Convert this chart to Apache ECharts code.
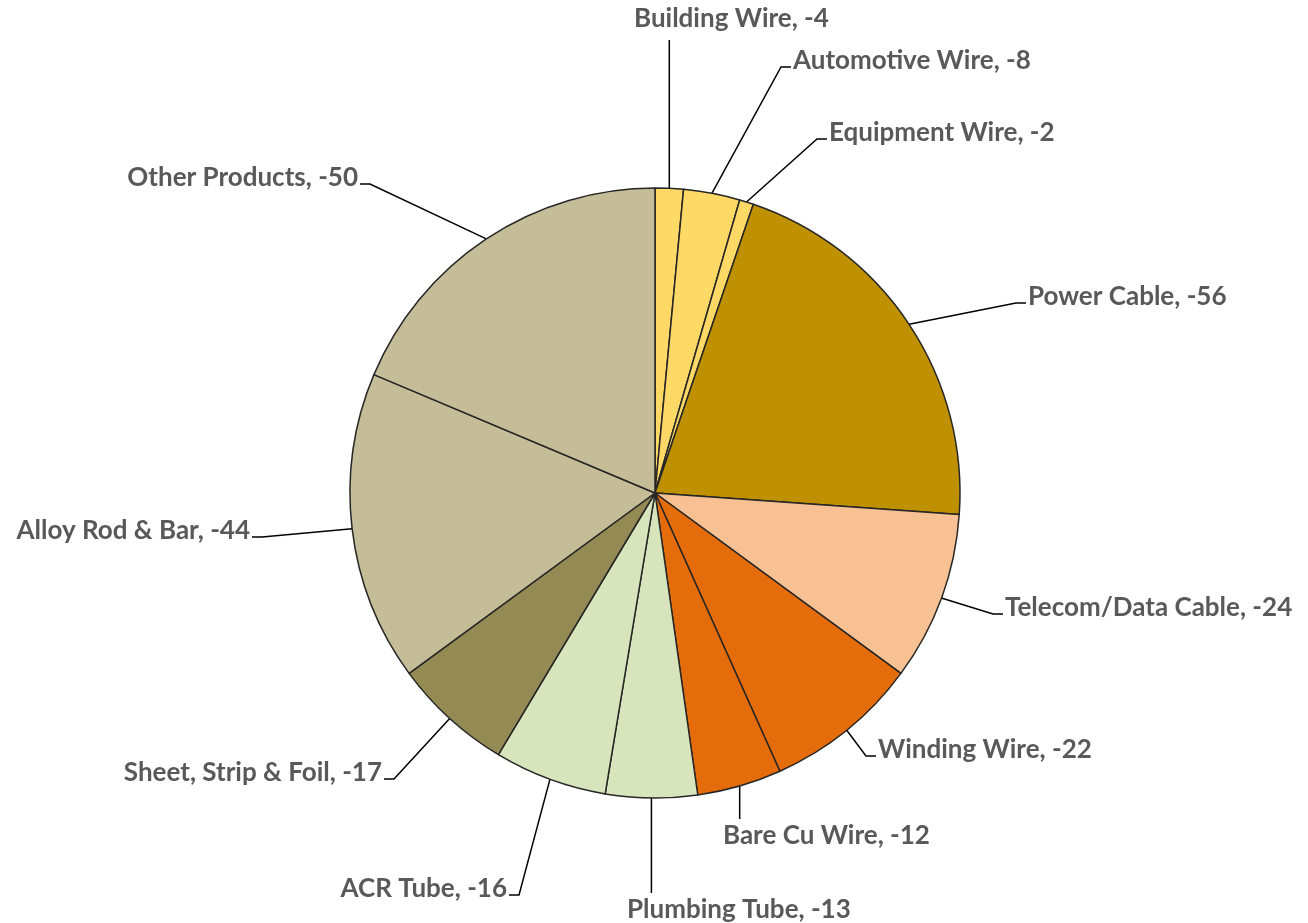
<!DOCTYPE html>
<html>
<head>
<meta charset="utf-8">
<style>
  html, body { margin: 0; padding: 0; background: #fff; }
  #chart { width: 1308px; height: 923px; }
</style>
<script src="https://cdn.jsdelivr.net/npm/echarts@6/dist/echarts.min.js"></script>
</head>
<body>
<div id="chart"></div>
<script>
// 数据
const categories = ['Building Wire', 'Automotive Wire', 'Equipment Wire', 'Power Cable',
  'Telecom/Data Cable', 'Winding Wire', 'Bare Cu Wire', 'Plumbing Tube', 'ACR Tube',
  'Sheet, Strip & Foil', 'Alloy Rod & Bar', 'Other Products'];
const values = [-4, -8, -2, -56, -24, -22, -12, -13, -16, -17, -44, -50];

// 颜色
const colors = ['#FFD966', '#FFD966', '#FFD966', '#BF9000', '#F8C194', '#E46C0A',
  '#E46C0A', '#D8E4BC', '#D8E4BC', '#948A54', '#C4BD97', '#C4BD97'];

// 标签位置 [x, y, 对齐, 引线方式]  h = 水平短线, up = 标签在上方, down = 标签在下方
const labelSpots = [
  [634, 19, 'left', 'up'], [793, 61, 'left', 'h'], [829, 133, 'left', 'h'],
  [1028, 297, 'left', 'h'], [1005, 608, 'left', 'h'], [878, 750, 'left', 'h'],
  [723, 836, 'left', 'down'], [627, 910, 'left', 'down'], [507, 889, 'right', 'h'],
  [382, 773, 'right', 'h'], [250, 531, 'right', 'h'], [358, 178, 'right', 'h']
];

const myChart = echarts.init(document.getElementById('chart'));
const option = {
  animation: false,
  series: [{
    type: 'pie',
    center: [655, 493],
    radius: 305,
    startAngle: 90,
    clockwise: true,
    avoidLabelOverlap: false,
    data: categories.map((name, i) => ({
      name: name,
      value: Math.abs(values[i]),
      itemStyle: { color: colors[i] }
    })),
    itemStyle: { borderColor: '#262626', borderWidth: 1.5 },
    label: {
      show: true,
      position: 'outside',
      formatter: (p) => p.name + ', ' + values[p.dataIndex],
      fontFamily: 'Lato',
      fontWeight: 'bold',
      fontSize: 26,
      color: '#595959'
    },
    labelLine: {
      show: true,
      length: 20,
      length2: 10,
      lineStyle: { color: '#000', width: 1.5 }
    },
    labelLayout: (params) => {
      const s = labelSpots[params.dataIndex];
      const res = { x: s[0], y: s[1], align: s[2], verticalAlign: 'middle' };
      const pts = params.labelLinePoints;
      if (pts && pts.length) {
        const p0 = [pts[0][0], pts[0][1]];
        const h = params.labelRect.height;
        if (s[3] === 'up') {
          res.labelLinePoints = [p0, [p0[0], s[1] + h / 2 + 8]];
        } else if (s[3] === 'down') {
          res.labelLinePoints = [p0, [p0[0], s[1] - h / 2 - 4]];
        } else {
          const dir = s[2] === 'left' ? -1 : 1;
          const yy = s[1] + 6;
          res.labelLinePoints = [p0, [s[0] + dir * 12, yy], [s[0] + dir * 2, yy]];
        }
      }
      return res;
    },
    emphasis: { disabled: true }
  }]
};
myChart.setOption(option);
</script>
</body>
</html>
